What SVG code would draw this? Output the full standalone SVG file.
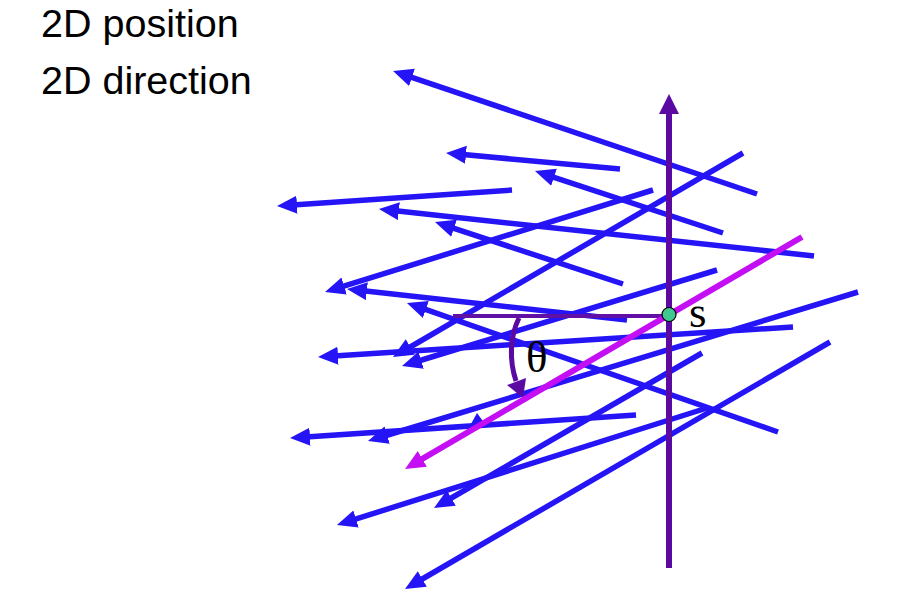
<svg xmlns="http://www.w3.org/2000/svg" width="913" height="603" viewBox="0 0 913 603">
<style>
.ray{stroke:#2414f6;stroke-width:5.5;fill:none;marker-end:url(#ah)}
.lbl{font-family:"Liberation Sans",Arial,sans-serif;font-size:39.5px;fill:#000}
.sym{font-family:"Liberation Serif","Times New Roman",serif;font-size:45px;fill:#000}
</style>
<defs>
<marker id="ah" markerUnits="userSpaceOnUse" markerWidth="22" markerHeight="20" refX="8" refY="9" orient="auto" viewBox="0 0 22 20">
<path d="M0,0 L20,9 L0,18 z" fill="#2414f6"/>
</marker>
<marker id="ahm" markerUnits="userSpaceOnUse" markerWidth="22" markerHeight="20" refX="8" refY="9" orient="auto" viewBox="0 0 22 20">
<path d="M0,0 L20,9 L0,18 z" fill="#c40ef4"/>
</marker>
<marker id="ahp" markerUnits="userSpaceOnUse" markerWidth="22" markerHeight="22" refX="8" refY="10" orient="auto" viewBox="0 0 22 22">
<path d="M0,0 L20,10 L0,20 z" fill="#5a0aa2"/>
</marker>
</defs>
<rect width="913" height="603" fill="#fff"/>
<g id="title">
<text class="lbl" x="41" y="37">2D position</text>
<text class="lbl" x="41" y="94">2D direction</text>
</g>
<g id="connectors">
<line class="ray" x1="757" y1="194" x2="404.4" y2="74.8"/>
<line class="ray" x1="620" y1="169" x2="458" y2="154.1"/>
<line class="ray" x1="723" y1="233" x2="546.4" y2="174.8"/>
<line class="ray" x1="512" y1="190" x2="289" y2="205.2"/>
<line class="ray" x1="814" y1="256" x2="390.9" y2="210.3"/>
<line class="ray" x1="623" y1="284" x2="446.4" y2="225.8"/>
<line class="ray" x1="653" y1="190" x2="336.5" y2="288.4"/>
<line class="ray" x1="743" y1="153" x2="403.4" y2="351"/>
<line class="ray" x1="627" y1="320" x2="358.9" y2="290.3"/>
<line class="ray" x1="717" y1="270" x2="413.5" y2="362.5"/>
<line class="ray" x1="793" y1="327" x2="330" y2="356.2"/>
<line class="ray" x1="778" y1="432" x2="418.3" y2="306.9"/>
<line class="ray" x1="858" y1="292" x2="379.5" y2="437.5"/>
<line class="ray" x1="636" y1="415" x2="302" y2="437.2"/>
<line class="ray" x1="707" y1="408" x2="348.4" y2="521.4"/>
<line class="ray" x1="702" y1="353" x2="444.4" y2="502"/>
<line class="ray" x1="830" y1="342" x2="415.4" y2="583"/>
<polygon points="471,424 477,413 485,424" fill="#2414f6"/>
<line x1="669" y1="568" x2="669" y2="106" stroke="#5a0aa2" stroke-width="6" marker-end="url(#ahp)"/>
<line x1="453" y1="316" x2="669" y2="316" stroke="#6010a4" stroke-width="4"/>
<path d="M519,318 C510,336 509,360 516,381" fill="none" stroke="#5a0aa2" stroke-width="5"/>
<polygon points="507,385 526,378 523,398" fill="#5a0aa2"/>
<line x1="802" y1="237" x2="415.4" y2="462.9" stroke="#c40ef4" stroke-width="6" marker-end="url(#ahm)"/>
</g>
<g id="point-s">
<circle cx="669" cy="314.5" r="7" fill="#40c890" stroke="#000" stroke-width="1.2"/>
<text class="sym" x="689" y="327">s</text>
</g>
<g id="theta">
<text class="sym" x="526" y="372">θ</text>
</g>
</svg>
